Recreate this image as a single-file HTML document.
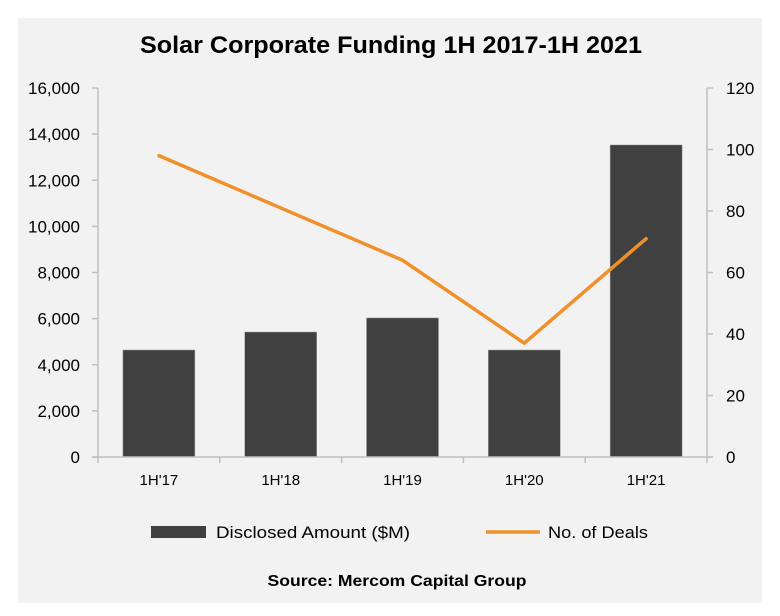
<!DOCTYPE html>
<html><head><meta charset="utf-8"><style>
body{margin:0;background:#fff;}
svg{display:block;font-family:"Liberation Sans",sans-serif;}
</style></head><body>
<svg id="chart" width="780" height="616">
<rect x="18" y="18" width="744" height="585" fill="#f2f2f2"/>
<text x="391" y="53" text-anchor="middle" font-size="24" font-weight="bold" fill="#000" textLength="502" lengthAdjust="spacingAndGlyphs">Solar Corporate Funding 1H 2017-1H 2021</text>
<g id="plot"></g>
<g>
<rect x="151" y="526" width="55" height="12" fill="#404040"/>
<text x="216" y="538" font-size="17" fill="#000" textLength="194" lengthAdjust="spacingAndGlyphs">Disclosed Amount ($M)</text>
<line x1="486" y1="532" x2="540" y2="532" stroke="#f0902a" stroke-width="3.5"/>
<text x="548" y="538" font-size="17" fill="#000" textLength="100" lengthAdjust="spacingAndGlyphs">No. of Deals</text>
</g>
<text x="397" y="586" text-anchor="middle" font-size="16" font-weight="bold" fill="#000" textLength="259" lengthAdjust="spacingAndGlyphs">Source: Mercom Capital Group</text>
</svg>
<script>
const categories=["1H'17","1H'18","1H'19","1H'20","1H'21"];
const amounts=[4640,5420,6030,4640,13530];
const deals=[98,81,64,37,71];
const leftTicks=[0,2000,4000,6000,8000,10000,12000,14000,16000];
const rightTicks=[0,20,40,60,80,100,120];

const NS="http://www.w3.org/2000/svg";
const g=document.getElementById('plot');
const X0=98,X1=707,Y0=457,Y1=88;
const band=(X1-X0)/categories.length;
const xc=i=>X0+band*(i+0.5);
const yL=v=>Y0-(v/16000)*(Y0-Y1);
const yR=v=>Y0-(v/120)*(Y0-Y1);
function mk(t,a){const e=document.createElementNS(NS,t);for(const k in a)e.setAttribute(k,a[k]);g.appendChild(e);return e;}

amounts.forEach((v,i)=>{
 const r=mk('rect',{x:xc(i)-36,y:yL(v),width:72,height:Y0-yL(v),fill:'#404040',stroke:'#a0a0a0','stroke-width':0.5});
 
 
});
let a=mk('line',{x1:X0,y1:Y1,x2:X0,y2:Y0,stroke:'#bfbfbf','stroke-width':1.5});


a=mk('line',{x1:X1,y1:Y1,x2:X1,y2:Y0,stroke:'#bfbfbf','stroke-width':1.5});


a=mk('line',{x1:X0-6,y1:Y0,x2:X1+6,y2:Y0,stroke:'#bfbfbf','stroke-width':1.5});


leftTicks.forEach(v=>{
 const y=yL(v);
 mk('line',{x1:X0-6,y1:y,x2:X0,y2:y,stroke:'#bfbfbf','stroke-width':1.5});
 const t=mk('text',{x:80,y:y+6,'text-anchor':'end','font-size':17,fill:'#000'});
 t.textContent=v.toLocaleString('en-US');
 
 
});
rightTicks.forEach(v=>{
 const y=yR(v);
 mk('line',{x1:X1,y1:y,x2:X1+6,y2:y,stroke:'#bfbfbf','stroke-width':1.5});
 const t=mk('text',{x:726,y:y+6,'font-size':17,fill:'#000'});
 t.textContent=v;
 
 
});
for(let i=0;i<=categories.length;i++){
 const x=X0+band*i;
 mk('line',{x1:x,y1:Y0,x2:x,y2:Y0+6,stroke:'#bfbfbf','stroke-width':1.5});
}
categories.forEach((c,i)=>{
 const t=mk('text',{x:xc(i),y:485,'text-anchor':'middle','font-size':15,fill:'#000'});
 t.textContent=c;
 
 
});
const pl=mk('polyline',{points:deals.map((v,i)=>xc(i)+','+yR(v)).join(' '),fill:'none',stroke:'#f0902a','stroke-width':3.5,'stroke-linejoin':'round','stroke-linecap':'round'});


</script>
</body></html>
